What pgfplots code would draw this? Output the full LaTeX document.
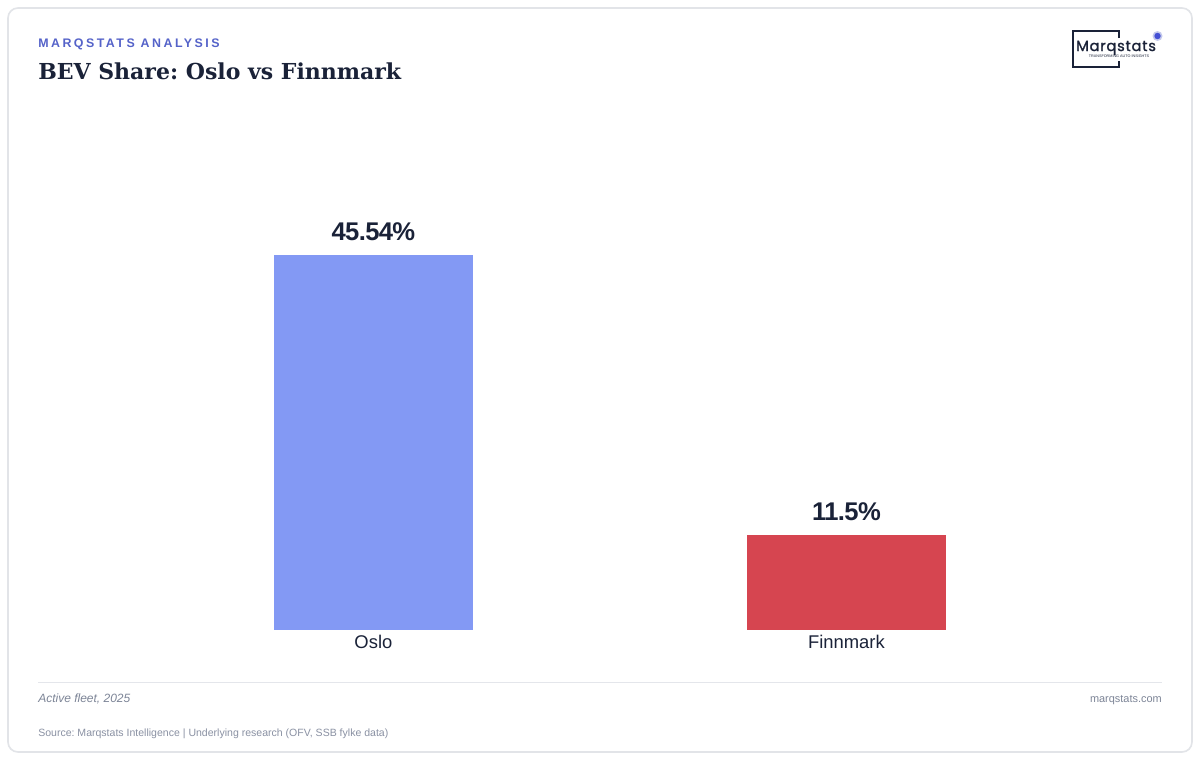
\documentclass[border=0pt]{standalone}
\usepackage{fontspec}
\setmainfont{Liberation Sans}
\newfontfamily\titlefont{DejaVu Serif}
\newfontfamily\logofont{Poppins}
\usepackage{pgfplots}
\pgfplotsset{compat=1.18}
\frenchspacing

\definecolor{navy}{HTML}{1A2238}
\definecolor{hdrblue}{HTML}{5563C9}
\definecolor{osloblue}{HTML}{8399F4}
\definecolor{finnred}{HTML}{D64550}
\definecolor{framegray}{HTML}{E2E4E8}
\definecolor{rulegray}{HTML}{E4E6EB}
\definecolor{footgray}{HTML}{7D8597}
\definecolor{srcgray}{HTML}{8A91A3}

\begin{document}
\begin{tikzpicture}
% page and decoration, 1 unit = 1 px of the reference, y downwards
\begin{scope}[x=0.75pt, y=-0.75pt]
  \path[fill=white] (0,0) rectangle (1200,760);
  \draw[framegray, line width=1.2pt, rounded corners=7.5pt] (8,8) rectangle (1192,752);

  \node[anchor=base west, inner sep=0, text=hdrblue,
        font=\bfseries\fontsize{9.3}{11}\selectfont\addfontfeature{LetterSpace=20}]
        at (38,47) {MARQSTATS ANALYSIS};
  \node[anchor=base west, inner sep=0, text=navy,
        font=\titlefont\bfseries\fontsize{16.5}{20}\selectfont]
        at (38,79) {BEV Share: Oslo vs Finnmark};

  % logo
  \draw[navy, line width=0.8pt] (1119,38) -- (1119,31) -- (1073,31) -- (1073,67) -- (1119,67) -- (1119,61);
  \node[anchor=base west, inner sep=0, text=navy,
        font=\logofont\fontsize{11}{12}\selectfont\addfontfeature{LetterSpace=5,FakeBold=1.5}]
        at (1076,51) {Marqstats};
  \node[anchor=base, inner sep=0, text=navy, font=\fontsize{2.8}{3}\selectfont]
        at (1119,57.5) {TRANSFORMING AUTO INSIGHTS};
  \fill[hdrblue, opacity=0.35] (1157.5,36) circle (5);
  \fill[hdrblue!80!blue] (1157.5,36) circle (3.2);

  % footer
  \draw[rulegray, line width=0.75pt] (38,682) -- (1162,682);
  \node[anchor=base west, inner sep=0, text=footgray, font=\itshape\fontsize{9}{11}\selectfont]
        at (38,702) {Active fleet, 2025};
  \node[anchor=base east, inner sep=0, text=footgray, font=\fontsize{8.2}{10}\selectfont]
        at (1162,702) {marqstats.com};
  \node[anchor=base west, inner sep=0, text=srcgray, font=\fontsize{7.9}{10}\selectfont]
        at (38,736) {Source: Marqstats Intelligence | Underlying research (OFV, SSB fylke data)};
\end{scope}

\begin{axis}[
  at={(28.5pt,-472.5pt)}, anchor=south west,
  scale only axis, width=843pt, height=370.5pt,
  xmin=-0.709, xmax=1.667, ymin=0, ymax=60,
  axis lines=left, axis line style={draw=none},
  ymajorticks=false,
  xtick={0,1}, xticklabels={Oslo,Finnmark},
  xtick style={draw=none}, major tick length=0pt,
  xticklabel style={font=\fontsize{13.8}{16}\selectfont, text=navy, anchor=base, yshift=-14pt},
  ybar, bar width=149.25pt, bar shift=0pt,
  /pgf/number format/assume math mode=true,
  nodes near coords={\pgfmathprintnumber[fixed,precision=2]{\pgfplotspointmeta}\%},
  every node near coord/.style={anchor=base, yshift=11pt, inner sep=0pt, text=navy,
     font=\bfseries\fontsize{19.2}{22}\selectfont\addfontfeature{LetterSpace=-2.5}},
  clip=false,
]
\addplot[draw=none, fill=osloblue] coordinates {(0,45.54)};
\addplot[draw=none, fill=finnred] coordinates {(1,11.5)};
\end{axis}
\end{tikzpicture}
\end{document}
